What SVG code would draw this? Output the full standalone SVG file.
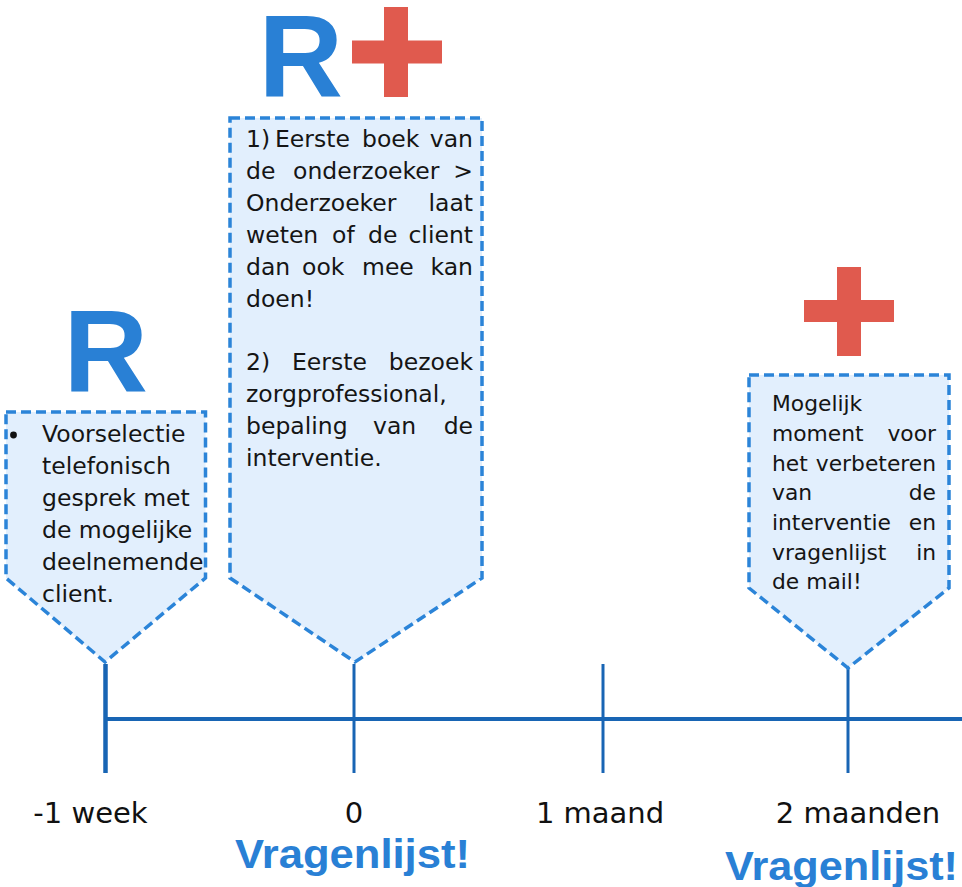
<svg xmlns="http://www.w3.org/2000/svg" width="962" height="887" viewBox="0 0 962 887">
<style>
.box{fill:#e2effd;stroke:#2b84d8;stroke-width:3.5;stroke-dasharray:10 5;stroke-linejoin:miter}
.t{font-family:"DejaVu Sans",sans-serif;font-size:23.5px;fill:#151515}
.t3{font-family:"DejaVu Sans",sans-serif;font-size:21.8px;fill:#151515}
.e{text-anchor:end}
.lbl{font-family:"DejaVu Sans",sans-serif;font-size:29px;fill:#111;text-anchor:middle}
.big{font-family:"Liberation Sans",Arial,sans-serif;font-weight:bold;font-size:117px;fill:#2980d5}
.vr{font-family:"Liberation Sans",Arial,sans-serif;font-weight:bold;font-size:40px;fill:#2980d5;text-anchor:middle}
.plus{fill:#e05a4e}
.axis{stroke:#1865b4;fill:none}
</style>
<rect width="962" height="887" fill="#ffffff"/>

<g id="connectors">
  <line class="axis" x1="105" y1="719" x2="962" y2="719" stroke-width="4"/>
  <line class="axis" x1="105.5" y1="664" x2="105.5" y2="773" stroke-width="4.5"/>
  <line class="axis" x1="354" y1="664" x2="354" y2="773" stroke-width="3"/>
  <line class="axis" x1="603" y1="664" x2="603" y2="773" stroke-width="3"/>
  <line class="axis" x1="848" y1="668" x2="848" y2="773" stroke-width="3"/>
</g>

<g id="node-week">
  <text class="big" x="63.5" y="392">R</text>
  <polygon class="box" points="6,412 205.5,412 205.5,578 105,662 6,578"/>
  <circle cx="13.5" cy="435" r="3.4" fill="#111"/>
  <text class="t" x="42" y="442">Voorselectie</text>
  <text class="t" x="42" y="474">telefonisch</text>
  <text class="t" x="42" y="506">gesprek met</text>
  <text class="t" x="42" y="538">de mogelijke</text>
  <text class="t" x="42" y="570">deelnemende</text>
  <text class="t" x="42" y="602">client.</text>
</g>

<g id="node-zero">
  <text class="big" x="258.5" y="97">R</text>
  <rect class="plus" x="384" y="7" width="24" height="90"/>
  <rect class="plus" x="352" y="40.5" width="90" height="23"/>
  <polygon class="box" points="230,118 482,118 482,578 355,662 230,578"/>
  <text class="t" y="147"><tspan x="246">1)</tspan><tspan x="275">Eerste</tspan><tspan x="362">boek</tspan></text>
  <text class="t e" x="473" y="147">van</text>
  <text class="t" y="179"><tspan x="246">de</tspan><tspan x="293">onderzoeker</tspan></text>
  <text class="t e" x="473" y="179">&gt;</text>
  <text class="t" x="246" y="211">Onderzoeker</text>
  <text class="t e" x="473" y="211">laat</text>
  <text class="t" y="243"><tspan x="246">weten</tspan><tspan x="332">of</tspan><tspan x="368">de</tspan></text>
  <text class="t e" x="473" y="243">client</text>
  <text class="t" y="275"><tspan x="246">dan</tspan><tspan x="302">ook</tspan><tspan x="362">mee</tspan></text>
  <text class="t e" x="473" y="275">kan</text>
  <text class="t" x="246" y="307">doen!</text>
  <text class="t" y="370"><tspan x="246">2)</tspan><tspan x="292">Eerste</tspan></text>
  <text class="t e" x="473" y="370">bezoek</text>
  <text class="t" x="246" y="402">zorgprofessional,</text>
  <text class="t" y="434"><tspan x="246">bepaling</tspan><tspan x="373">van</tspan></text>
  <text class="t e" x="473" y="434">de</text>
  <text class="t" x="246" y="466">interventie.</text>
</g>

<g id="node-two-months">
  <rect class="plus" x="837" y="267" width="24" height="89"/>
  <rect class="plus" x="804" y="300" width="90" height="22"/>
  <polygon class="box" points="749,375 949,375 949,588 848,668 749,588"/>
  <text class="t3" x="772" y="411">Mogelijk</text>
  <text class="t3" x="772" y="441">moment</text>
  <text class="t3 e" x="936" y="441">voor</text>
  <text class="t3" x="772" y="470.5">het</text>
  <text class="t3 e" x="936" y="470.5">verbeteren</text>
  <text class="t3" x="772" y="500">van</text>
  <text class="t3 e" x="936" y="500">de</text>
  <text class="t3" x="772" y="530">interventie</text>
  <text class="t3 e" x="936" y="530">en</text>
  <text class="t3" x="772" y="560">vragenlijst</text>
  <text class="t3 e" x="936" y="560">in</text>
  <text class="t3" x="772" y="589">de mail!</text>
</g>

<g id="labels">
  <text class="lbl" x="90.5" y="823">-1 week</text>
  <text class="lbl" x="354" y="823">0</text>
  <text class="lbl" x="600" y="823">1 maand</text>
  <text class="lbl" x="858" y="823">2 maanden</text>
  <text class="vr" x="352.5" y="868" textLength="235" lengthAdjust="spacingAndGlyphs">Vragenlijst!</text>
  <text class="vr" x="841.5" y="880" textLength="233" lengthAdjust="spacingAndGlyphs">Vragenlijst!</text>
</g>
</svg>
